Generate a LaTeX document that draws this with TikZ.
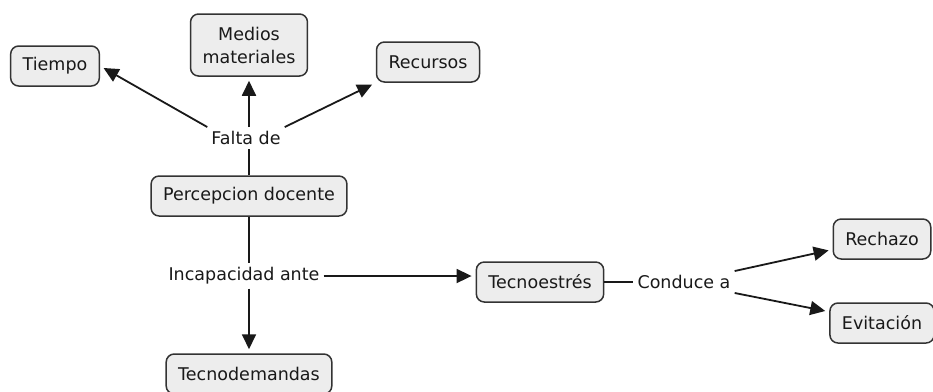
\documentclass[tikz,border=0pt]{standalone}
\usepackage{fontspec}
\setmainfont{DejaVu Sans}
\usetikzlibrary{arrows.meta}

\begin{document}
\begin{tikzpicture}[x=1pt,y=-1pt,
  concept/.style={draw=black!80,fill=black!7,line width=1.5pt,rounded corners=8pt,
    minimum height=40pt,inner xsep=12pt,align=center,font=\fontsize{17.5}{21}\selectfont,text=black!90},
  linking/.style={inner sep=4pt,font=\fontsize{17.5}{21}\selectfont,text=black!90},
  link/.style={line width=1.8pt,draw=black!90},
  arrowlink/.style={link,-{Triangle[length=15pt,width=14pt]},shorten >=4pt}]
\useasboundingbox (0,0) rectangle (933,391);
\node[concept] (tiempo) at (55,66) {Tiempo};
\node[concept,minimum height=62pt] (medios) at (249,45) {Medios\\[2pt]materiales};
\node[concept] (recursos) at (428,62) {Recursos};
\node[linking] (falta) at (246,138) {Falta de};
\node[concept] (percepcion) at (249,196) {Percepcion docente};
\node[linking] (incapacidad) at (244,276) {Incapacidad ante};
\node[concept] (tecnodemandas) at (249,374) {Tecnodemandas};
\node[concept] (tecnoestres) at (540,282) {Tecnoestrés};
\node[linking] (conduce) at (684,282) {Conduce a};
\node[concept] (rechazo) at (882,239) {Rechazo};
\node[concept] (evitacion) at (882,323) {Evitación};
\draw[link] (percepcion.north) -- (percepcion.north |- falta.south);
\draw[arrowlink] (falta.north west) -- (tiempo.east);
\draw[arrowlink] (falta.north -| medios.south) -- (medios.south);
\draw[arrowlink] (falta.north east) -- (recursos.south west);
\draw[link] (percepcion.south) -- (percepcion.south |- incapacidad.north);
\draw[arrowlink] (incapacidad.south -| tecnodemandas.north) -- (tecnodemandas.north);
\draw[arrowlink] (incapacidad.east) -- (incapacidad.east -| tecnoestres.west);
\draw[link] (tecnoestres) -- (conduce);
\draw[arrowlink] (conduce.north east) -- (rechazo.192);
\draw[arrowlink] (conduce.south east) -- (evitacion.168);
\end{tikzpicture}
\end{document}
